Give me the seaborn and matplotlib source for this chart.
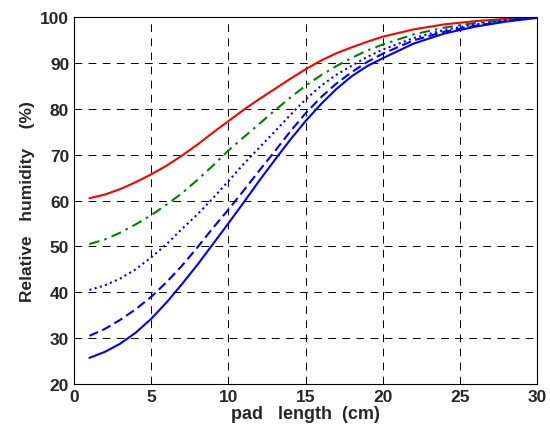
import matplotlib
matplotlib.use("Agg")
import matplotlib.pyplot as plt
import seaborn as sns
import numpy as np
import pandas as pd

# pad length (cm) sample points
pad_length = [1, 2, 3, 4, 5, 6, 7, 8, 9, 10, 11, 12, 13, 14, 15, 16, 17, 18, 19, 20, 22, 24, 26, 28, 30]

# relative humidity (%) curves
rh_60 = [60.5, 61.3, 62.5, 64.0, 65.7, 67.6, 69.8, 72.2, 74.8, 77.3, 79.8, 82.1, 84.3, 86.5, 88.6, 90.5, 92.1, 93.4, 94.6, 95.7, 97.3, 98.4, 99.1, 99.6, 100.0]
rh_50 = [50.5, 51.5, 53.0, 54.8, 56.8, 59.1, 61.6, 64.5, 67.6, 70.9, 73.8, 76.7, 79.6, 82.4, 85.0, 87.3, 89.3, 91.1, 92.7, 94.0, 96.2, 97.7, 98.7, 99.4, 100.0]
rh_40 = [40.5, 41.5, 43.0, 45.0, 47.6, 50.5, 53.8, 57.0, 60.5, 64.2, 68.0, 71.5, 75.0, 78.6, 82.0, 85.0, 87.4, 89.4, 91.3, 92.9, 95.4, 97.2, 98.4, 99.3, 100.0]
rh_30 = [30.5, 32.0, 34.0, 36.3, 39.0, 42.2, 45.8, 49.8, 54.0, 58.0, 62.2, 66.5, 70.7, 75.0, 79.0, 82.5, 85.5, 88.0, 90.2, 92.0, 94.9, 96.8, 98.1, 99.1, 100.0]
rh_25 = [25.7, 27.0, 28.8, 31.2, 34.2, 37.8, 41.8, 46.0, 50.5, 55.0, 59.6, 64.3, 68.8, 73.2, 77.3, 81.0, 84.3, 87.1, 89.3, 91.0, 94.2, 96.4, 97.9, 99.0, 99.8]

sns.set_style("white")
plt.rcParams['font.family'] = ['Liberation Sans', 'DejaVu Sans']
plt.rcParams['font.weight'] = 'bold'

fig = plt.figure(figsize=(5.5, 4.35), dpi=100)
ax = fig.add_axes([74 / 550, 1 - 385 / 435, (537 - 74) / 550, (385 - 18) / 435])

curves = [
    (rh_60, '#ff0000', '-'),
    (rh_50, '#008000', (0, (5, 2.5, 1.2, 2.5))),
    (rh_40, '#0000ff', (0, (1, 1.6))),
    (rh_30, '#0000ff', (0, (4.5, 2.2))),
    (rh_25, '#0000ff', '-'),
]
for vals, col, ls in curves:
    df = pd.DataFrame({'x': pad_length, 'y': vals})
    sns.lineplot(data=df, x='x', y='y', ax=ax, color=col, linestyle=ls, linewidth=1.5)

ax.set_xlim(0, 30)
ax.set_ylim(20, 100)
ax.set_xticks(range(0, 31, 5))
ax.set_yticks(range(20, 101, 10))
ax.grid(True, color='black', linestyle=(0, (8, 6.5)), linewidth=0.7)
ax.tick_params(direction='in', length=4, labelsize=12.5, width=0.8, color='black')
for lab in ax.get_xticklabels() + ax.get_yticklabels():
    lab.set_fontweight('bold')
for sp in ax.spines.values():
    sp.set_color('black')
    sp.set_linewidth(0.8)

ax.set_xlabel('pad   length  (cm)', fontsize=13, fontweight='bold', labelpad=1)
ax.set_ylabel('Relative   humidity    (%)', fontsize=12.5, fontweight='bold', labelpad=4)

fig.savefig('out.png', dpi=100)
